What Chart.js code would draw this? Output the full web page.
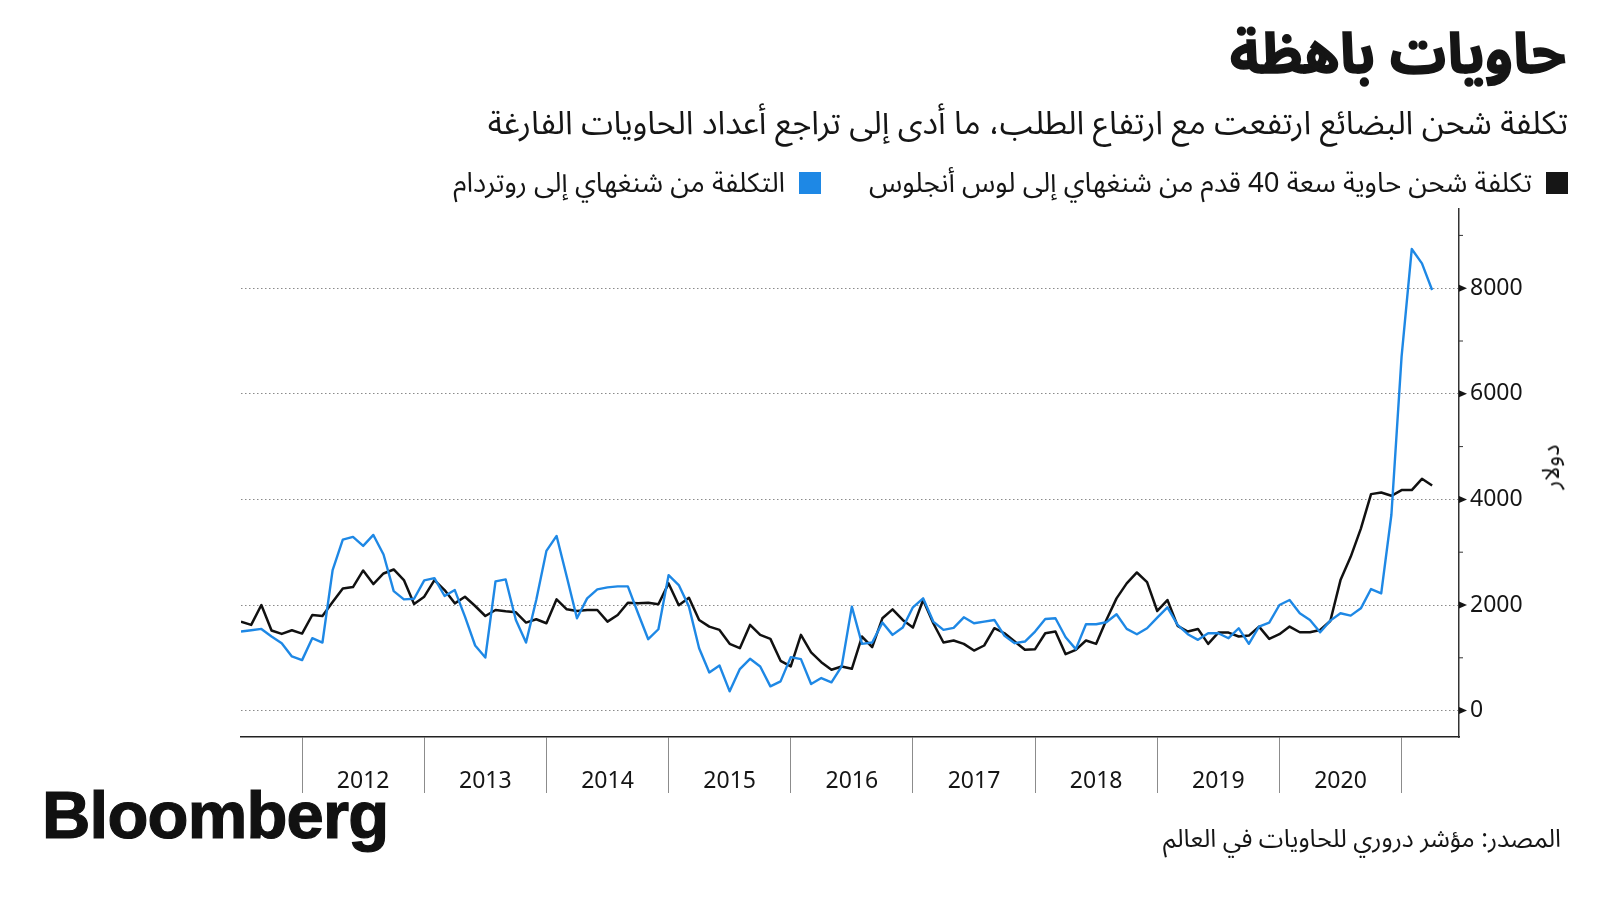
<!DOCTYPE html>
<html lang="ar">
<head>
<meta charset="utf-8">
<script src="https://cdn.jsdelivr.net/npm/chart.js@4.4.1/dist/chart.umd.min.js"></script>
<style>
  html, body { margin: 0; padding: 0; background: #fff; }
  #page { position: relative; width: 1600px; height: 900px; overflow: hidden; color: #151515;
          font-family: "Noto Sans Arabic", "DejaVu Sans", sans-serif; }
  #chartBox { position: absolute; left: 0; top: 0; width: 1600px; height: 900px; }
  .rtl { position: absolute; direction: rtl; white-space: nowrap; }
  #title { right: 34px; top: 22px; font-size: 56px; line-height: 67px; font-weight: bold;
           -webkit-text-stroke: 1.5px #151515; }
  #subtitle { right: 32px; top: 105px; font-size: 32.5px; line-height: 38px; }
  #legend { right: 32px; top: 167px; font-size: 27.5px; line-height: 32px; display: flex; gap: 48px; }
  .item { display: flex; align-items: center; gap: 14px; }
  .swatch { width: 22px; height: 22px; display: inline-block; }
  #source { right: 39px; top: 824px; font-size: 25px; line-height: 30px; }
  #yTitle { position: absolute; left: 1552px; top: 467px; font-size: 24px; line-height: 28px;
            white-space: nowrap; transform: translate(-50%, -50%) rotate(-90deg); direction: rtl; }
  #logo { position: absolute; left: 42px; top: 782px; font-family: "Liberation Sans", Arial, sans-serif;
          font-weight: bold; font-size: 67px; line-height: 66px; letter-spacing: -0.8px; color: #111;
          -webkit-text-stroke: 1.2px #111; }
</style>
</head>
<body>
<div id="page">
  <div id="chartBox"><canvas id="chart"></canvas></div>
  <div id="title" class="rtl">حاويات باهظة</div>
  <div id="subtitle" class="rtl">تكلفة شحن البضائع ارتفعت مع ارتفاع الطلب، ما أدى إلى تراجع أعداد الحاويات الفارغة</div>
  <div id="legend" class="rtl">
    <div class="item"><span class="swatch" style="background:#161616"></span><span>تكلفة شحن حاوية سعة 40 قدم من شنغهاي إلى لوس أنجلوس</span></div>
    <div class="item"><span class="swatch" style="background:#1e88e5"></span><span>التكلفة من شنغهاي إلى روتردام</span></div>
  </div>
  <div id="yTitle">دولار</div>
  <div id="logo">Bloomberg</div>
  <div id="source" class="rtl">المصدر: مؤشر دروري للحاويات في العالم</div>
</div>
<script>
// monthly readings, July 2011 to April 2021 (USD per 40ft container)
const firstYear = 2011;
const firstMonth = 7;

const shanghaiLA = [
  1686, 1623, 2000, 1516, 1453, 1522, 1459, 1811, 1792, 2056, 2314, 2340,
  2654, 2396, 2597, 2673, 2472, 2019, 2157, 2472, 2283, 2031, 2157, 1981,
  1792, 1906, 1881, 1862, 1667, 1730, 1654, 2107, 1918, 1887, 1906, 1906,
  1686, 1811, 2044, 2031, 2044, 2013, 2409, 1994, 2138, 1717, 1591, 1528,
  1264, 1182, 1623, 1434, 1358, 943, 836, 1434, 1101, 918, 774, 836,
  792, 1403, 1201, 1748, 1918, 1717, 1572, 2094, 1654, 1289, 1327, 1264,
  1138, 1233, 1560, 1465, 1308, 1151, 1164, 1465, 1497, 1069, 1151, 1327,
  1264, 1717, 2126, 2409, 2616, 2434, 1887, 2094, 1604, 1497, 1547, 1264,
  1478, 1478, 1403, 1421, 1591, 1358, 1447, 1591, 1484, 1484, 1528, 1698,
  2472, 2912, 3447, 4100, 4131, 4068, 4176, 4176, 4390, 4264
];

const shanghaiRotterdam = [
  1497, 1522, 1547, 1403, 1277, 1025, 956, 1371, 1289, 2660, 3239, 3289,
  3119, 3327, 2956, 2264, 2107, 2119, 2465, 2509, 2170, 2283, 1780, 1233,
  1006, 2447, 2484, 1717, 1289, 2094, 3025, 3308, 2535, 1748, 2126, 2296,
  2333, 2352, 2352, 1843, 1352, 1541, 2566, 2377, 1969, 1182, 723, 855,
  365, 786, 981, 836, 459, 553, 1013, 975, 503, 616, 535, 836,
  1969, 1264, 1289, 1667, 1434, 1572, 1956, 2126, 1686, 1528, 1566, 1767,
  1654, 1686, 1717, 1415, 1277, 1308, 1497, 1736, 1748, 1390, 1164, 1635,
  1635, 1673, 1824, 1547, 1447, 1560, 1761, 1956, 1623, 1447, 1340, 1465,
  1465, 1371, 1560, 1264, 1591, 1667, 2000, 2094, 1843, 1717, 1484, 1704,
  1843, 1799, 1937, 2302, 2220, 3709, 6704, 8742, 8471, 7966
];

const yearLabels = ['2012', '2013', '2014', '2015', '2016', '2017', '2018', '2019', '2020'];
const yearBreaks = [2012, 2013, 2014, 2015, 2016, 2017, 2018, 2019, 2020, 2021];
const yTicks = [0, 1000, 2000, 3000, 4000, 5000, 6000, 7000, 8000, 9000];

const seriesNames = ['التكلفة من شنغهاي إلى روتردام', 'تكلفة شحن حاوية سعة 40 قدم من شنغهاي إلى لوس أنجلوس'];

// month index -> decimal year, for the linear time axis
function monthPos(i) {
  return firstYear + (firstMonth - 1 + i) / 12;
}

function toPoints(values) {
  return values.map((v, i) => ({ x: monthPos(i), y: v }));
}

const xTickValues = [];
yearBreaks.forEach(y => xTickValues.push(y));
yearLabels.forEach(l => xTickValues.push(parseInt(l) + 0.5));
xTickValues.sort((a, b) => a - b);

// small arrow heads on the value axis, short marks for the odd thousands
const axisMarks = {
  id: 'axisMarks',
  afterDraw(chart) {
    const scale = chart.scales.y;
    const ctx = chart.ctx;
    const x0 = scale.left;
    ctx.save();
    ctx.fillStyle = '#151515';
    ctx.strokeStyle = '#333';
    ctx.lineWidth = 1;
    scale.ticks.forEach(t => {
      const py = scale.getPixelForValue(t.value);
      if (t.value % 2000 === 0) {
        ctx.beginPath();
        ctx.moveTo(x0, py - 3.5);
        ctx.lineTo(x0 + 8, py);
        ctx.lineTo(x0, py + 3.5);
        ctx.closePath();
        ctx.fill();
      } else {
        ctx.beginPath();
        ctx.moveTo(x0, py);
        ctx.lineTo(x0 + 4, py);
        ctx.stroke();
      }
    });
    ctx.restore();
  }
};

const tickFont = { family: 'Noto Sans', size: 23 };

new Chart(document.getElementById('chart'), {
  type: 'line',
  data: {
    datasets: [
      {
        label: seriesNames[0],
        data: toPoints(shanghaiRotterdam),
        borderColor: '#1e88e5',
        borderWidth: 2.4,
        pointRadius: 0,
        borderJoinStyle: 'round',
        tension: 0
      },
      {
        label: seriesNames[1],
        data: toPoints(shanghaiLA),
        borderColor: '#111111',
        borderWidth: 2.5,
        pointRadius: 0,
        borderJoinStyle: 'round',
        tension: 0
      }
    ]
  },
  options: {
    responsive: true,
    maintainAspectRatio: false,
    animation: false,
    layout: { padding: { left: 241, top: 209, right: 28, bottom: 103 } },
    plugins: {
      legend: { display: false },
      tooltip: { enabled: false }
    },
    scales: {
      x: {
        type: 'linear',
        min: 2011.5,
        max: 2021.47,
        afterBuildTicks: s => { s.ticks = xTickValues.map(v => ({ value: v })); },
        afterFit: s => { s.height = 60; },
        grid: {
          drawOnChartArea: false,
          drawTicks: true,
          tickLength: 56,
          tickWidth: 1,
          tickColor: c => Number.isInteger(c.tick.value) ? '#8c8c8c' : 'transparent'
        },
        border: { display: true, color: '#222', width: 1.5 },
        ticks: {
          autoSkip: false,
          maxRotation: 0,
          padding: -25,
          color: '#151515',
          font: tickFont,
          callback: v => Number.isInteger(v) ? '' : String(Math.floor(v))
        }
      },
      y: {
        position: 'right',
        min: -500,
        max: 9500,
        afterBuildTicks: s => { s.ticks = yTicks.map(v => ({ value: v })); },
        afterFit: s => { s.width = 113; },
        grid: {
          color: c => c.tick.value % 2000 === 0 ? '#8a8a8a' : 'transparent',
          lineWidth: 1,
          drawTicks: true,
          tickLength: 8,
          tickColor: 'transparent'
        },
        border: { display: true, color: '#333', width: 1.5, dash: [1.5, 2.5] },
        ticks: {
          padding: 3,
          color: '#151515',
          font: tickFont,
          callback: v => v % 2000 === 0 ? String(v) : ''
        },
        title: { display: false }
      }
    }
  },
  plugins: [axisMarks]
});
</script>
</body>
</html>
